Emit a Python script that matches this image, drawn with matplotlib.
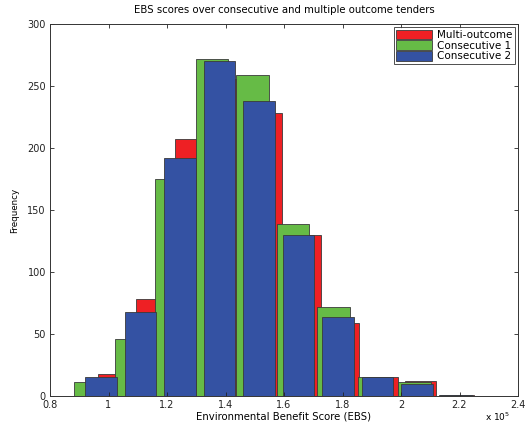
import matplotlib
matplotlib.use("Agg")
import matplotlib.pyplot as plt
import numpy as np

plt.rcParams['font.family'] = ['DejaVu Sans']

# Data (EBS in units of 1e5)
multi_centers = [1.017, 1.148, 1.279, 1.411, 1.542, 1.673, 1.805, 1.936, 2.067, 2.198]
multi_counts = [18, 78, 207, 256, 228, 130, 59, 15, 12, 1]
cons1_centers = [0.938, 1.077, 1.215, 1.354, 1.492, 1.631, 1.769, 1.908, 2.046, 2.185]
cons1_counts = [11, 46, 175, 272, 259, 139, 72, 15, 11, 1]
cons2_centers = [0.974, 1.109, 1.244, 1.379, 1.514, 1.649, 1.784, 1.919, 2.054, 2.189]
cons2_counts = [15, 68, 192, 270, 238, 130, 64, 15, 10, 1]
series_names = ['Multi-outcome', 'Consecutive 1', 'Consecutive 2']
xticks = [0.8, 1, 1.2, 1.4, 1.6, 1.8, 2, 2.2, 2.4]
xticklabels = ['0.8', '1', '1.2', '1.4', '1.6', '1.8', '2', '2.2', '2.4']
yticks = [0, 50, 100, 150, 200, 250, 300]

fig = plt.figure(figsize=(5.26, 4.25), dpi=100)
ax = fig.add_axes([50/526, 29/425, 468/526, 372/425])

colors = ['#EE2024', '#66BB46', '#3452A3']
for centers, counts, col, name in [(multi_centers, multi_counts, colors[0], series_names[0]),
                                   (cons1_centers, cons1_counts, colors[1], series_names[1]),
                                   (cons2_centers, cons2_counts, colors[2], series_names[2])]:
    c = np.array(centers)
    w = 0.8 * np.mean(np.diff(c))
    ax.bar(c, counts, width=w, color=col, edgecolor='#3a3a3a', linewidth=0.6, label=name)

ax.set_xlim(0.8, 2.4)
ax.set_ylim(0, 300)
ax.set_xticks(xticks)
ax.set_xticklabels(xticklabels)
ax.set_yticks(yticks)
ax.tick_params(direction='in', top=True, right=True, labelsize=7, length=3, width=0.6, colors='#222222', pad=3)
for s in ax.spines.values():
    s.set_linewidth(0.7)
    s.set_color('#333333')

ax.set_title('EBS scores over consecutive and multiple outcome tenders', fontsize=7.3, pad=8)
ax.set_xlabel('Environmental Benefit Score (EBS)', fontsize=7.3, labelpad=1)
ax.set_ylabel('Frequency', fontsize=6.3, labelpad=6)
ax.text(0.984, -0.038, r'x 10$^5$', transform=ax.transAxes, ha='right', va='top', fontsize=6.5)

leg = ax.legend(loc='upper right', fontsize=7.5, frameon=True, fancybox=False,
                edgecolor='#222222', borderaxespad=0.3, handlelength=3.4, handleheight=1.0,
                labelspacing=0.05, borderpad=0.25, handletextpad=0.5)
leg.get_frame().set_linewidth(0.7)

fig.savefig('out.png', dpi=100)
